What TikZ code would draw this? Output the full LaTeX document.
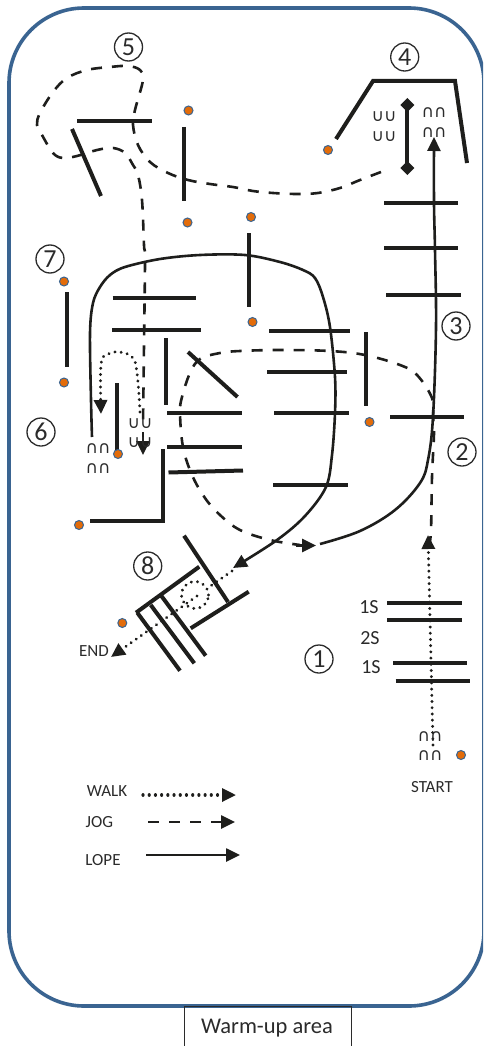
\documentclass[tikz,border=0pt]{standalone}
\usepackage{fontspec}
\setmainfont{Carlito}
\newfontfamily\symf{DejaVu Sans}
\usetikzlibrary{arrows.meta}
\definecolor{inkc}{HTML}{1E1E1C}
\definecolor{txtc}{HTML}{2B2B2B}
\definecolor{framec}{HTML}{3A6491}
\definecolor{dotc}{HTML}{E36C0A}
\tikzset{
  bar/.style={draw=inkc,line width=4pt},
  lope/.style={draw=inkc,line width=2.6pt},
  jog/.style={draw=inkc,line width=2.6pt,dash pattern=on 11pt off 10pt},
  walk/.style={draw=inkc,line width=3.2pt,line cap=round,dash pattern=on 0.01pt off 6.2pt},
  tip/.style={-{Triangle[length=14pt,width=13pt]}},
  cone/.style={circle,fill=dotc,draw=framec,line width=1pt,minimum size=9pt,inner sep=0pt},
  numc/.style={circle,draw=txtc,line width=1.3pt,minimum size=28pt,inner sep=0pt,text=txtc,font=\fontsize{26}{27}\selectfont},
  lab/.style={text=txtc,inner sep=0pt,font=\fontsize{17}{18}\selectfont},
  hops/.style={text=txtc,inner sep=0pt,font=\symf\fontsize{17}{18}\selectfont}
}
\begin{document}
\begin{tikzpicture}[x=1pt,y=-1pt]
\useasboundingbox (0,0) rectangle (483,1046);
\clip (0,0) rectangle (483,1046);
% frame
\draw[framec,line width=3.6pt,rounded corners=75pt] (9,8) rectangle (484,1006);
\node[draw=txtc,line width=1pt,minimum width=167pt,minimum height=60pt,inner sep=0pt] (boxw) at (267.5,1036) {};
\node[lab,font=\fontsize{22.5}{24}\selectfont] (warm) at (267,1028) {Warm-up area};
% barriers
\foreach \xa/\ya/\xb/\yb in {
 77/121/152/121, 72/129/101/196, 184/127/184/201, 248.5/233/248.5/307,
 384/203/458/203, 384/248/458/248, 386/295/461/295,
 269/331/350/331, 267/371.5/347/371.5, 274/413/349/413, 273/485/348/485,
 365.5/332/365.5/406, 390/416.5/464/416.5,
 112.5/298/196/298, 112/330/200.5/330, 166/338/166/405, 188/352/237.5/397,
 167/413/242/413, 167/446.5/242/446.5, 168.5/472.5/243/470.5,
 67/292/67/367, 117/383/117/452,
 184/535.7/228/602, 248.7/591.7/190.7/628.3, 199.3/566.7/136/612.7,
 137.3/612.7/180/670.7, 150.7/605/194.3/663.3, 160.7/595/205.7/655.7,
 387/602.5/462/602.5, 387/620/462/620, 393/662.5/467/662.5, 395.5/681/470/681}{
  \draw[bar] (\xa,\ya) -- (\xb,\yb);
}
\draw[bar,line join=miter] (336,139) -- (373,81) -- (455,81) -- (467,163);
\draw[bar,line join=miter] (163,449) -- (163,521) -- (90,521);
% diamond-ended bar
\draw[bar,{Diamond[length=14pt,width=14pt]}-{Diamond[length=14pt,width=14pt]}] (407.3,98) -- (407.3,175);
% cones
\foreach \n/\x/\y in {a/188.5/110.5, b/187.5/222.5, c/251/217, d/252.5/322, e/328/150,
  f/369.5/422, g/64/281.5, h/64/382.5, i/118/454, j/79/525, k/122.3/623, l/461/755}{
  \node[cone] (cone\n) at (\x,\y) {};
}
% lope paths
\draw[lope,tip] plot[smooth,tension=0.55] coordinates {(92,437) (91,400) (90,333) (93,303) (100,287) (110,275) (125,267) (160,259) (200,255) (245,255) (280,262) (303,270) (315,278) (323,297) (330,327) (335,377) (335,413) (332,455) (326,487) (305,516) (277,540) (233,568)};
\draw[lope,tip] plot[smooth,tension=0.6] coordinates {(320,544) (360,531) (395,510) (420,483) (428,460) (433,417) (436,327) (435,250) (434,203) (434,137)};
% jog paths
\draw[jog] plot[smooth,tension=0.6] coordinates {(429,547) (431,530) (432,477) (434,433) (433,417) (432,398) (417,375) (400,365) (365,355) (330,351) (280,350) (240,351) (220,353) (200,359) (190,373) (182,397) (180,413) (183,447) (192,475) (205,498) (220,515) (240,530) (270,540) (300,545)};
\draw[draw=inkc,line width=2.6pt,tip] (296,545.5) -- (316,545.5);
\draw[jog] plot[smooth,tension=0.6] coordinates {(381,172) (360,180) (340,188) (318,193) (297,194) (273,193) (253,191) (233,187) (210,184) (188,180) (168,173) (150,162) (138,145) (133,125) (135,110) (143,80) (140,70) (128,66) (110,67) (87,70) (67,78) (53,92) (40,113) (37,125) (42,135) (53,153) (63,158) (77,156) (97,150) (113,148) (125,153) (133,165) (138,175) (142,200) (144,245) (145,260) (144,345) (143,425)};
\draw[draw=inkc,line width=2.6pt,tip] (143,432) -- (143,455);
% walk paths
\draw[walk,tip] plot[smooth,tension=0.7] coordinates {(140,412) (137,373) (132,357) (118,352) (107,355) (101,365) (101,414)};
\draw[walk,tip] (433,745) -- (428,535);
\draw[walk] (232,571) -- (209,587);
\draw[walk] (195,595) circle[radius=13.5pt];
\draw[walk,tip] (197,596) -- (111,657);
% legend
\node[lab] (lwalk) at (107,791) {WALK};
\node[lab] (ljog) at (99.3,822) {JOG};
\node[lab] (llope) at (103,860) {LOPE};
\coordinate (wa) at (143,795); \coordinate (wb) at (236,795);
\coordinate (ja) at (148,822); \coordinate (jb) at (235,822);
\coordinate (la) at (146,855); \coordinate (lb) at (240,855);
\draw[walk,tip] (wa) -- (wb);
\draw[jog,tip] (ja) -- (jb);
\draw[lope,tip] (la) -- (lb);
% numbers
\foreach \n/\x/\y in {5/128.5/47, 7/50/259, 4/404.7/57, 3/456/326, 2/462/452, 6/41/432, 8/147.7/566, 1/319/659}{
  \node[numc] (num\n) at (\x,\y) {\n};
}
% labels
\node[lab] (tend) at (94,650.7) {END};
\node[lab] (tstart) at (432,787) {START};
\node[lab,font=\fontsize{20}{22}\selectfont] (s1) at (369,607) {1S};
\node[lab,font=\fontsize{20}{22}\selectfont] (s2) at (370,638) {2S};
\node[lab,font=\fontsize{20}{22}\selectfont] (s3) at (371,667) {1S};
% hoof prints
\foreach \n/\x/\y/\t in {a/384/117/∪∪, b/384/137/∪∪, c/434/113/∩∩, d/434/133/∩∩,
  e/98/449/∩∩, f/98/469/∩∩, g/140/424/∪∪, h/140/443/∪∪, i/430/737/∩∩, j/430/756/∩∩}{
  \node[hops] (hop\n) at (\x,\y) {\t};
}
\end{tikzpicture}
\end{document}
